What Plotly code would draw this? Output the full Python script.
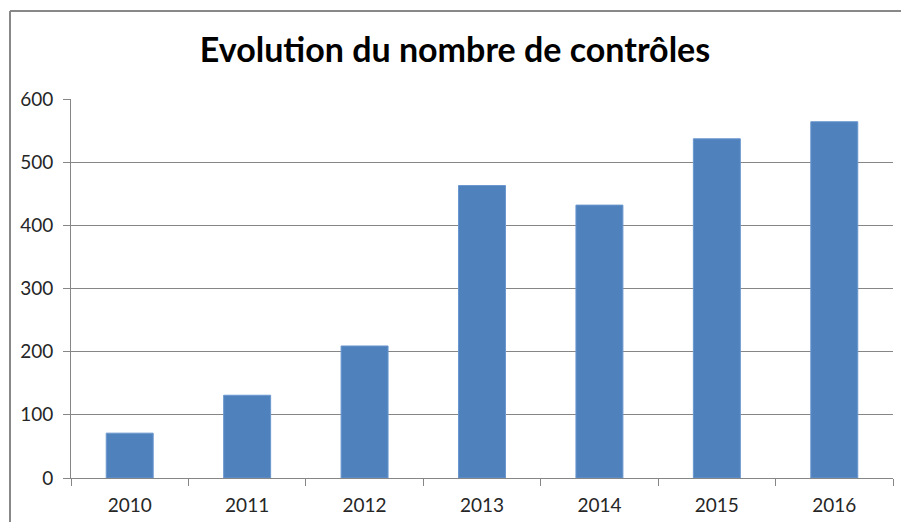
import plotly.graph_objects as go

years = ["2010", "2011", "2012", "2013", "2014", "2015", "2016"]
controles = [71, 131, 209, 463, 432, 537, 564]
y_ticks = [0, 100, 200, 300, 400, 500, 600]

fig = go.Figure(
    go.Bar(
        x=years,
        y=controles,
        marker=dict(color="#4F81BD", line=dict(color="#6A97CF", width=1)),
    )
)

grey = "#868686"
fig.update_layout(
    width=901,
    height=522,
    margin=dict(l=71, r=8, t=99, b=44),
    paper_bgcolor="white",
    plot_bgcolor="white",
    bargap=0.6,
    showlegend=False,
    font=dict(family="Lato, Open Sans, sans-serif", size=19, color="#262626"),
    title=dict(
        text="<b>Evolution du nombre de contrôles</b>",
        font=dict(family="Lato, Open Sans, sans-serif", size=34, color="black"),
        xref="container",
        x=0.505,
        xanchor="center",
        yref="container",
        y=0.904,
        yanchor="middle",
    ),
    xaxis=dict(
        type="category",
        tickson="boundaries",
        ticks="outside",
        ticklen=7,
        tickcolor=grey,
        showline=True,
        linecolor=grey,
        linewidth=1,
        showgrid=False,
        ticklabelstandoff=10,
        automargin=False,
    ),
    yaxis=dict(
        range=[0, 600],
        tickvals=y_ticks,
        ticks="outside",
        ticklen=7,
        tickcolor=grey,
        showline=True,
        linecolor=grey,
        linewidth=1,
        showgrid=True,
        gridcolor=grey,
        gridwidth=1,
        zeroline=False,
        ticklabelstandoff=6,
        automargin=False,
    ),
)

# chart-object frame (top and left edges visible in the crop)
frame = dict(color="#888888", width=2)
fig.add_shape(type="line", xref="paper", yref="paper",
              x0=-0.0742, x1=1.02, y0=1.232, y1=1.232, line=frame)
fig.add_shape(type="line", xref="paper", yref="paper",
              x0=-0.0742, x1=-0.0742, y0=1.232, y1=-0.2, line=frame)

fig.write_html(
    "out.html",
    config={"displayModeBar": False},
    post_script="document.body.style.margin='0';",
)
